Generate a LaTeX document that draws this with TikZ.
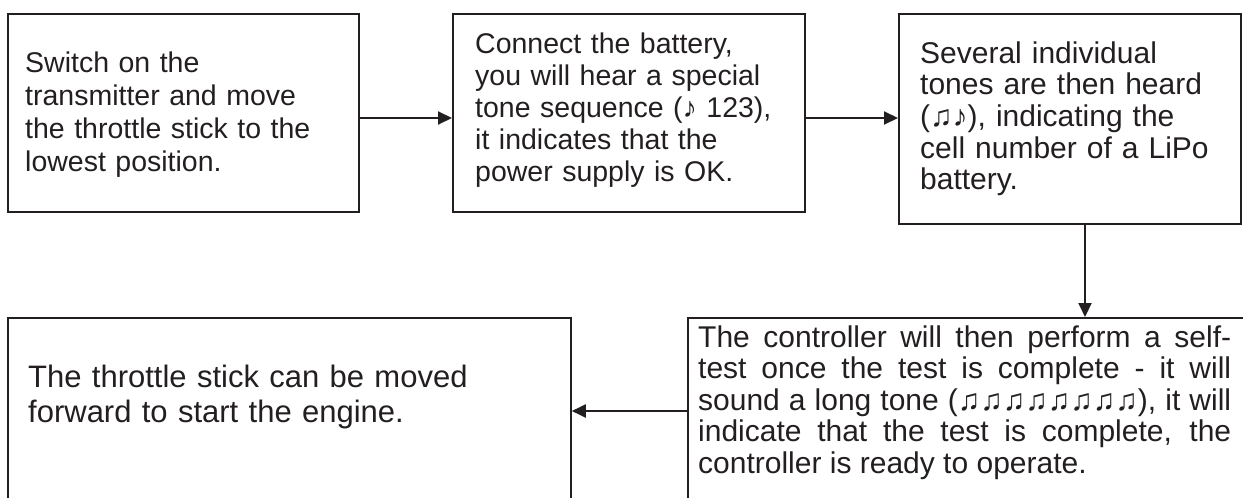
\documentclass[tikz,border=0pt]{standalone}
\usepackage{fontspec}
\setmainfont{Liberation Sans}
\usetikzlibrary{arrows.meta}
\definecolor{ink}{HTML}{231F20}
\begin{document}
\begin{tikzpicture}[x=1pt,y=-1pt,
  box/.style={draw=ink, line width=1.8pt, inner sep=0pt, anchor=north west},
  txt/.style={inner sep=0pt, anchor=base west, align=left, text=ink},
  jtxt/.style={inner sep=0pt, anchor=base west, align=justify, text=ink},
  flow/.style={draw=ink, line width=2pt, -{Triangle[length=14pt,width=13pt]}}]
\useasboundingbox (0,0) rectangle (1243,498);
\clip (0,0) rectangle (1243,498);
% boxes
\node[box, minimum width=351pt, minimum height=198pt] (b1) at (7,13) {};
\node[box, minimum width=352pt, minimum height=198pt] (b2) at (452,13) {};
\node[box, minimum width=342pt, minimum height=210pt] (b3) at (898,13) {};
\node[box, minimum width=600pt, minimum height=188pt] (b4) at (687,317) {};
\node[box, minimum width=563pt, minimum height=188pt] (b5) at (7,317) {};
% texts
\node[txt, text width=330pt, font=\fontsize{28.5}{33}\selectfont] (t1) at (25,72)
  {Switch on the\\transmitter and move\\the throttle stick to the\\lowest position.};
\node[txt, text width=320pt, font=\fontsize{28.5}{32}\selectfont] (t2) at (475,53)
  {Connect the battery,\\you will hear a special\\tone sequence (♪ 123),\\it indicates that the\\power supply is OK.};
\node[txt, text width=320pt, font=\fontsize{30}{31.7}\selectfont] (t3) at (920,63)
  {Several individual\\tones are then heard\\(♫♪), indicating the\\cell number of a LiPo\\battery.};
\node[jtxt, text width=533pt, font=\fontsize{30}{31.5}\selectfont] (t4) at (698,347)
  {\hyphenpenalty=10000 \tolerance=9999 The controller will then perform a self-\linebreak
   test once the test is complete - it will\linebreak
   sound a long tone (♫♫♫♫♫♫♫♫), it will\linebreak
   indicate that the test is complete, the\linebreak
   controller is ready to operate.};
\node[txt, text width=540pt, font=\fontsize{31}{35}\selectfont] (t5) at (28,387)
  {The throttle stick can be moved\\forward to start the engine.};
% connectors
\coordinate (rowy) at (0,118);
\coordinate (downx) at (1085,0);
\coordinate (lowy) at (0,411);
\draw[flow] (b1.east |- rowy) -- (b2.west |- rowy);
\draw[flow] (b2.east |- rowy) -- (b3.west |- rowy);
\draw[flow] (b3.south -| downx) -- (b4.north -| downx);
\draw[flow] (b4.west |- lowy) -- (b5.east |- lowy);
\end{tikzpicture}
\end{document}
